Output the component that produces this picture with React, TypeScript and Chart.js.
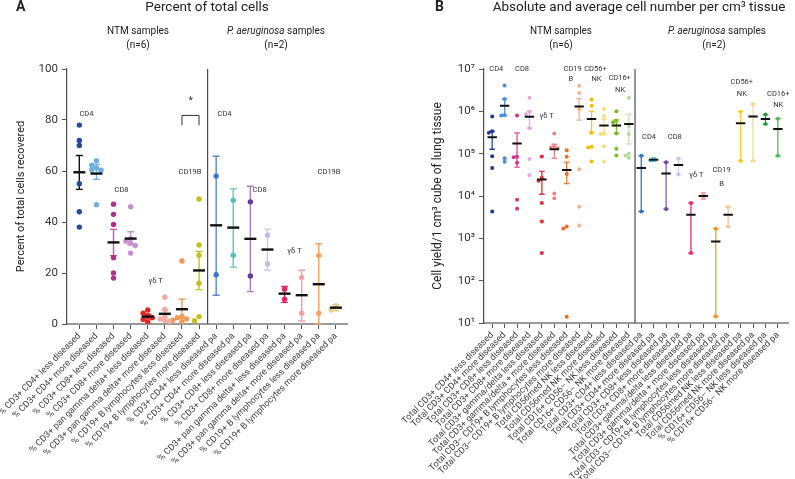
import React, { useEffect, useRef } from "react";
import { Chart, registerables } from "chart.js";
Chart.register(...registerables);

const FONT = "Roboto, 'Liberation Sans', Arial, sans-serif";

// ---------------- Panel A: percent of total cells ----------------
const pctLabels = [
  "% CD3+ CD4+ less diseased",
  "% CD3+ CD4+ more diseased",
  "% CD3+ CD8+ less diseased",
  "% CD3+ CD8+ more diseased",
  "% CD3+ pan gamma delta+ less diseased",
  "% CD3+ pan gamma delta+ more diseased",
  "% CD19+ B lymphocytes less diseased",
  "% CD19+ B lymphocytes more diseased",
  "% CD3+ CD4+ less diseased pa",
  "% CD3+ CD4+ more diseased pa",
  "% CD3+ CD8+ less diseased pa",
  "% CD3+ CD8+ more diseased pa",
  "% CD3+ pan gamma delta+ less diseased pa",
  "% CD3+ pan gamma delta+ more diseased pa",
  "% CD19+ B lymphocytes less diseased pa",
  "% CD19+ B lymphocytes more diseased pa",
];
const pctNtmValues = [
  [78, 72, 70, 55, 44, 38],
  [64, 62.3, 61.2, 60.5, 60.3, 46.8],
  [47, 43, 39, 26, 20, 18],
  [46, 33.5, 32.5, 31.7, 30.8, 27.8],
  [5.5, 4.2, 3.3, 2.5, 1.8, 0.8],
  [10.5, 5.7, 3.5, 2, 1.5, 1],
  [24.7, 3, 2.5, 2, 1.5, 0.8],
  [49, 31, 27, 16, 2.9, 1.3],
];
const pctPaValues = [
  [58, 19.3],
  [48.5, 27],
  [47.9, 18.8],
  [34.8, 23.6],
  [13.6, 9.7],
  [18.2, 4.2],
  [26.9, 4.2],
  [7.2, 5.5],
];
const pctMeans = [59.5, 59.0, 32.0, 33.5, 2.9, 4.0, 5.8, 21.0, 38.7, 37.8, 33.4, 29.2, 11.9, 11.3, 15.6, 6.4];
const pctErrHigh = [66.1, 62.6, 37.1, 36.2, 3.8, 5.5, 9.7, 28.5, 65.8, 53, 54, 37.2, 14.7, 21.1, 31.5, 7.6];
const pctErrLow = [52.8, 56.7, 26.8, 31.2, 2.0, 2.6, 2.0, 13.5, 11.3, 22.3, 12.7, 21.1, 8.5, 1.2, 0, 5.2];
const pctPointColors = [
  "#23489e", "#6fb0e2", "#b0318c", "#c88fd2", "#e8261e", "#f2aaa2", "#f19a58", "#c6c01c",
  "#3f73cc", "#4cc4bc", "#6a3a9c", "#c2b8ea", "#e62860", "#f0a0a8", "#f9a25e", "#e6d08c",
];
const pctBarColors = [
  "#111111", "#6fb0e2", "#d452a8", "#c88fd2", "#e8261e", "#f2aaa2", "#f19a58", "#c6c01c",
  "#5a88d8", "#5cc8c0", "#a77cc8", "#cfc7ef", "#e62860", "#f0a0a8", "#f9a25e", "#e6d08c",
];
const pctYTicks = [0, 20, 40, 60, 80, 100];

// ---------------- Panel B: absolute cell numbers ----------------
const absLabels = [
  "Total CD3+ CD4+ less diseased",
  "Total CD3+ CD4+ more diseased",
  "Total CD3+ CD8+ less diseased",
  "Total CD3+ CD8+ more diseased",
  "Total CD3+ gamma/delta less diseased",
  "Total CD3+ gamma/delta + more diseased",
  "Total CD3– CD19+ B lymphocytes less diseased",
  "Total CD3– CD19+ B lymphocytes more diseased",
  "Total CD56med NK less diseased",
  "Total CD56med NK more diseased",
  "Total CD16+ CD56– NK less diseased",
  "Total CD16+ CD56– NK more diseased",
  "Total CD3+ CD4+ less diseased pa",
  "Total CD3+ CD4+ more diseased pa",
  "Total CD3+ CD8+ less diseased pa",
  "Total CD3+ CD8+ more diseased pa",
  "Total CD3+ gamma/delta less diseased pa",
  "Total CD3+ gamma/delta + more diseased pa",
  "Total CD3– CD19+ B lymphocytes less diseased pa",
  "Total CD3– CD19+ B lymphocytes more diseased pa",
  "Total CD56med NK less diseased pa",
  "Total CD56med Nk more diseased pa",
  "% CD16+ CD56– NK less diseased pa",
  "% CD16+ CD56– NK more diseased pa",
];
const absNtmValues = [
  [7.5e5, 3.4e5, 3.1e5, 8.7e4, 4.6e4, 4.3e3],
  [4.1e6, 1.95e6, 8.2e5, 8.0e5, 7.8e4, 6.4e4],
  [8e5, 8.5e4, 8.2e4, 6.1e4, 8.2e3, 5e3],
  [2.1e6, 9.8e5, 8.5e5, 4e5, 7.5e4, 3.1e4],
  [8.6e4, 2.7e4, 2.3e4, 6.8e3, 2.5e3, 450],
  [3e5, 1.5e5, 1.4e5, 1.35e5, 1.15e4, 8.9e3],
  [1.2e5, 8.5e4, 3.3e4, 1.9e3, 1.7e3, 14],
  [4.0e6, 2.7e6, 1.12e6, 4.3e4, 5.6e3, 2e3],
  [1.9e6, 1.35e6, 3.1e5, 1.45e5, 1.4e5, 6.5e4],
  [1.15e6, 7.8e5, 3.1e5, 2.9e5, 1.5e5, 6.5e4],
  [1.0e6, 6e5, 5.5e5, 3e5, 1.3e5, 9e4],
  [2.1e6, 4.5e5, 2.9e5, 1e5, 9e4, 8e4],
];
const absPaValues = [
  [8.9e4, 4.3e3],
  [7.6e4, 6.9e4],
  [6.3e4, 4.9e3],
  [7.65e4, 3.2e4],
  [6.8e3, 448],
  [1.12e4, 8.9e3],
  [1.68e3, 14.3],
  [5.5e3, 1.9e3],
  [9.8e5, 6.8e4],
  [1.49e6, 6.8e4],
  [8.4e5, 5.0e5],
  [6.7e5, 8.9e4],
];
const absMeans = [
  2.45e5, 1.35e6, 1.75e5, 7.4e5, 2.45e4, 1.27e5, 4.1e4, 1.3e6, 6.6e5, 4.6e5, 4.6e5, 5.0e5,
  4.6e4, 7.2e4, 3.4e4, 5.4e4, 3.6e3, 1.0e4, 840, 3.6e3, 5.2e5, 7.5e5, 6.6e5, 3.8e5,
];
const absErrHigh = [
  3.4e5, 1.95e6, 3.1e5, 1.0e6, 3.8e4, 1.67e5, 6.3e4, 2.0e6, 1.0e6, 6.5e5, 6.3e5, 8.5e5,
  8.9e4, 7.9e4, 6.3e4, 7.65e4, 6.8e3, 1.2e4, 1.68e3, 5.5e3, 9.8e5, 1.49e6, 8.4e5, 6.7e5,
];
const absErrLow = [
  1.27e5, 7.8e5, 4.8e4, 4.0e5, 1.1e4, 7.8e4, 1.97e4, 6.2e5, 3.1e5, 2.8e5, 3.0e5, 1.7e5,
  4.3e3, 6.6e4, 4.9e3, 3.2e4, 448, 8.5e3, 14.3, 1.9e3, 6.8e4, 6.8e4, 5.0e5, 8.9e4,
];
const absPointColors = [
  "#1f3a94", "#4a90e0", "#d2348c", "#e6aad8", "#e62a36", "#ef8484", "#ef6d1e", "#f7b48c",
  "#f4bd00", "#f6de86", "#78be22", "#b4dc9c",
  "#3478cc", "#5cc6dc", "#7446a4", "#d2c2ea", "#e82c76", "#f0a6a6", "#f7951a", "#f7c69c",
  "#f6cc1c", "#f6dc92", "#27a046", "#58b658",
];
const absBarColors = [
  "#2a48a4", "#4a90e0", "#e04a9c", "#e6aad8", "#e62a36", "#ef8484", "#ef7a30", "#f7b48c",
  "#f4c820", "#f6de86", "#78be22", "#c4e4b0",
  "#3478cc", "#5cc6dc", "#8a60b8", "#d8cbee", "#e82c76", "#f0a6a6", "#f7a030", "#f7c69c",
  "#f6d030", "#f6dc92", "#27a046", "#58b658",
];
const absYTicks = [1e1, 1e2, 1e3, 1e4, 1e5, 1e6, 1e7];

const SUP: Record<string, string> = { "0": "⁰", "1": "¹", "2": "²", "3": "³", "4": "⁴", "5": "⁵", "6": "⁶", "7": "⁷", "8": "⁸", "9": "⁹" };

type Ann = { text: string; x: number; y: number; size?: number };
type HeaderText = { parts: { t: string; italic?: boolean; bold?: boolean }[]; x: number; y: number; size: number; align?: CanvasTextAlign };

type Spec = {
  labels: string[];
  values: number[][];
  means: number[];
  hi: number[];
  lo: number[];
  pointColors: string[];
  barColors: string[];
  xMin: number;
  xMax: number;
  yType: "linear" | "logarithmic";
  yMin: number;
  yMax: number;
  yTicks: number[];
  yTickFmt: (v: number) => string;
  yTitle: string;
  yTitleSize: number;
  toPx: (v: number) => number;
  catPx: number;
  radius: number;
  meanRadius: number;
  meanWidth: number;
  capHalf: number;
  barWidth: number;
  separatorAt: number;
  padding: { left: number; right: number; top: number };
  yWidth: number;
  xHeight: number;
  xTickSize: number;
  annSize: number;
  annotations: Ann[];
  headers: HeaderText[];
  bracket?: { x1: number; x2: number; yTop: number; yBottom: number };
};

function dodge(vals: number[], toPx: (v: number) => number, catPx: number, r: number): number[] {
  const placed: { dx: number; py: number }[] = [];
  return vals.map((v) => {
    const py = toPx(v);
    const step = r * 1.7;
    let dx = 0;
    for (const k of [0, -1, 1, -2, 2, -3, 3]) {
      const c = k * step;
      if (placed.every((p) => Math.hypot(p.dx - c, p.py - py) >= r * 1.7)) {
        dx = c;
        break;
      }
    }
    placed.push({ dx, py });
    return dx / catPx;
  });
}

function drawHeader(ctx: CanvasRenderingContext2D, h: HeaderText) {
  const fontFor = (p: { italic?: boolean; bold?: boolean }) =>
    `${p.italic ? "italic " : ""}${p.bold ? "bold " : ""}${h.size}px ${FONT}`;
  let total = 0;
  const widths = h.parts.map((p) => {
    ctx.font = fontFor(p);
    const w = ctx.measureText(p.t).width;
    total += w;
    return w;
  });
  let x = h.align === "left" ? h.x : h.x - total / 2;
  ctx.textAlign = "left";
  ctx.textBaseline = "middle";
  ctx.fillStyle = "#222";
  h.parts.forEach((p, i) => {
    ctx.font = fontFor(p);
    ctx.fillText(p.t, x, h.y);
    x += widths[i];
  });
}

function buildChart(canvas: HTMLCanvasElement, spec: Spec) {
  const datasets: any[] = [];
  datasets.push({
    data: spec.means.map((m, i) => ({ x: i, y: m })),
    pointStyle: "line",
    pointRadius: spec.meanRadius,
    pointBorderColor: "#111",
    pointBorderWidth: spec.meanWidth,
    showLine: false,
    order: 0,
  });
  spec.values.forEach((vals, i) => {
    const offs = dodge(vals, spec.toPx, spec.catPx, spec.radius);
    datasets.push({
      data: vals.map((v, j) => ({ x: i + offs[j], y: v })),
      pointRadius: spec.radius,
      pointBackgroundColor: spec.pointColors[i],
      pointBorderColor: spec.pointColors[i],
      pointBorderWidth: 0,
      showLine: false,
      order: 1,
    });
  });

  const decor = {
    id: "decor",
    beforeDatasetsDraw(chart: any) {
      const { ctx, chartArea } = chart;
      const x = chart.scales.x;
      const y = chart.scales.y;
      ctx.save();
      const sx = x.getPixelForValue(spec.separatorAt);
      ctx.strokeStyle = "#4a4a4a";
      ctx.lineWidth = 1.2;
      ctx.beginPath();
      ctx.moveTo(sx, chartArea.top);
      ctx.lineTo(sx, chartArea.bottom);
      ctx.stroke();
      spec.hi.forEach((h, i) => {
        const px = x.getPixelForValue(i);
        const yh = Math.max(chartArea.top, y.getPixelForValue(h));
        const yl = Math.min(chartArea.bottom, y.getPixelForValue(Math.max(spec.lo[i], spec.yMin)));
        ctx.strokeStyle = spec.barColors[i];
        ctx.lineWidth = spec.barWidth;
        ctx.beginPath();
        ctx.moveTo(px, yh);
        ctx.lineTo(px, yl);
        ctx.moveTo(px - spec.capHalf, yh);
        ctx.lineTo(px + spec.capHalf, yh);
        ctx.moveTo(px - spec.capHalf, yl);
        ctx.lineTo(px + spec.capHalf, yl);
        ctx.stroke();
      });
      ctx.restore();
    },
    afterDraw(chart: any) {
      const { ctx } = chart;
      const x = chart.scales.x;
      const y = chart.scales.y;
      ctx.save();
      ctx.fillStyle = "#333";
      ctx.textAlign = "center";
      ctx.textBaseline = "middle";
      spec.annotations.forEach((a) => {
        ctx.font = `${a.size ?? spec.annSize}px ${FONT}`;
        ctx.fillText(a.text, x.getPixelForValue(a.x), y.getPixelForValue(a.y));
      });
      if (spec.bracket) {
        const b = spec.bracket;
        const x1 = x.getPixelForValue(b.x1);
        const x2 = x.getPixelForValue(b.x2);
        const yt = y.getPixelForValue(b.yTop);
        const yb = y.getPixelForValue(b.yBottom);
        ctx.strokeStyle = "#333";
        ctx.lineWidth = 1;
        ctx.beginPath();
        ctx.moveTo(x1, yb);
        ctx.lineTo(x1, yt);
        ctx.lineTo(x2, yt);
        ctx.lineTo(x2, yb);
        ctx.stroke();
      }
      spec.headers.forEach((h) => drawHeader(ctx, h));
      ctx.restore();
    },
  };

  return new Chart(canvas, {
    type: "scatter",
    data: { datasets },
    plugins: [decor],
    options: {
      animation: false,
      responsive: true,
      maintainAspectRatio: false,
      events: [],
      layout: { padding: { left: spec.padding.left, right: spec.padding.right, top: spec.padding.top, bottom: 0 } },
      plugins: { legend: { display: false }, tooltip: { enabled: false }, title: { display: false } },
      scales: {
        x: {
          type: "linear",
          min: spec.xMin,
          max: spec.xMax,
          afterBuildTicks: (s: any) => {
            s.ticks = spec.labels.map((_, i) => ({ value: i }));
          },
          afterFit: (s: any) => {
            s.height = spec.xHeight;
            s.paddingLeft = 0;
            s.paddingRight = 0;
          },
          ticks: {
            autoSkip: false,
            minRotation: 45,
            maxRotation: 45,
            padding: 2,
            color: "#444",
            font: { family: FONT, size: spec.xTickSize },
            callback: (v: any) => spec.labels[Math.round(Number(v))] ?? "",
          },
          grid: { display: true, drawOnChartArea: false, drawTicks: true, tickLength: 5, color: "#555", lineWidth: 1 },
          border: { display: true, color: "#9a9a9a", width: 2 },
        },
        y: {
          type: spec.yType,
          min: spec.yMin,
          max: spec.yMax,
          afterBuildTicks: (s: any) => {
            s.ticks = spec.yTicks.map((v) => ({ value: v }));
          },
          afterFit: (s: any) => {
            s.width = spec.yWidth;
          },
          ticks: {
            padding: 4,
            color: "#333",
            font: { family: FONT, size: 11.5 },
            callback: (v: any) => spec.yTickFmt(Number(v)),
          },
          grid: { display: true, drawOnChartArea: false, drawTicks: true, tickLength: 5, color: "#555", lineWidth: 1 },
          border: { display: true, color: "#4a4a4a", width: 1.2 },
          title: {
            display: true,
            text: spec.yTitle,
            color: "#222",
            padding: { top: 0, bottom: 0 },
            font: { family: FONT, size: spec.yTitleSize },
          },
        },
      },
    } as any,
  });
}

const leftSpec: Spec = {
  labels: pctLabels,
  values: [...pctNtmValues, ...pctPaValues],
  means: pctMeans,
  hi: pctErrHigh,
  lo: pctErrLow,
  pointColors: pctPointColors,
  barColors: pctBarColors,
  xMin: -0.72,
  xMax: 15.65,
  yType: "linear",
  yMin: 0,
  yMax: 100,
  yTicks: pctYTicks,
  yTickFmt: (v) => String(v),
  yTitle: "Percent of total cells recovered",
  yTitleSize: 11,
  toPx: (v) => v * 2.55,
  catPx: 17.1,
  radius: 2.7,
  meanRadius: 6,
  meanWidth: 2.4,
  capHalf: 3.5,
  barWidth: 1.4,
  separatorAt: 7.5,
  padding: { left: 15, right: 53, top: 69 },
  yWidth: 52,
  xHeight: 155,
  xTickSize: 9,
  annSize: 7.5,
  annotations: [
    { text: "CD4", x: 0.42, y: 82.5 },
    { text: "CD8", x: 2.47, y: 52.5 },
    { text: "γδ T", x: 4.46, y: 17 },
    { text: "CD19B", x: 6.47, y: 59.6 },
    { text: "*", x: 6.51, y: 87.2, size: 10 },
    { text: "CD4", x: 8.49, y: 82.5 },
    { text: "CD8", x: 10.54, y: 52.5 },
    { text: "γδ T", x: 12.58, y: 28.6 },
    { text: "CD19B", x: 14.6, y: 59.4 },
  ],
  bracket: { x1: 6, x2: 7, yTop: 81.8, yBottom: 78 },
  headers: [
    { parts: [{ t: "A", bold: true }], x: 16, y: 7, size: 14, align: "left" },
    { parts: [{ t: "Percent of total cells" }], x: 207, y: 8, size: 13.5 },
    { parts: [{ t: "NTM samples" }], x: 138, y: 31, size: 10 },
    { parts: [{ t: "(n=6)" }], x: 138, y: 45, size: 10 },
    { parts: [{ t: "P. aeruginosa", italic: true }, { t: " samples" }], x: 276, y: 31, size: 10 },
    { parts: [{ t: "(n=2)" }], x: 276, y: 45, size: 10 },
  ],
};

const rightSpec: Spec = {
  labels: absLabels,
  values: [...absNtmValues, ...absPaValues],
  means: absMeans,
  hi: absErrHigh,
  lo: absErrLow,
  pointColors: absPointColors,
  barColors: absBarColors,
  xMin: -0.66,
  xMax: 23.84,
  yType: "logarithmic",
  yMin: 10,
  yMax: 1e7,
  yTicks: absYTicks,
  yTickFmt: (v) => {
    const e = String(Math.round(Math.log10(v)));
    return "10" + e.split("").map((c) => SUP[c] ?? c).join("");
  },
  yTitle: "Cell yield/1 cm³ cube of lung tissue",
  yTitleSize: 12,
  toPx: (v) => Math.log10(v) * 42.38,
  catPx: 12.6,
  radius: 2,
  meanRadius: 4.7,
  meanWidth: 2,
  capHalf: 2.8,
  barWidth: 1.3,
  separatorAt: 11.5,
  padding: { left: 31, right: 2, top: 69 },
  yWidth: 53,
  xHeight: 156,
  xTickSize: 9,
  annSize: 7.5,
  annotations: [
    { text: "CD4", x: 0.33, y: 1e7 },
    { text: "CD8", x: 2.4, y: 1e7 },
    { text: "CD19", x: 6.48, y: 1e7 },
    { text: "B", x: 6.33, y: 5.8e6 },
    { text: "CD56+", x: 8.31, y: 1e7 },
    { text: "NK", x: 8.39, y: 5.8e6 },
    { text: "CD16+", x: 10.26, y: 6.1e6 },
    { text: "NK", x: 10.3, y: 3.2e6 },
    { text: "γδ T", x: 4.38, y: 7.6e5 },
    { text: "CD4", x: 12.63, y: 2.42e5 },
    { text: "CD8", x: 14.7, y: 2.42e5 },
    { text: "γδ T", x: 16.44, y: 3.07e4 },
    { text: "CD19", x: 18.47, y: 4.03e4 },
    { text: "B", x: 18.47, y: 1.88e4 },
    { text: "CD56+", x: 20.1, y: 4.8e6 },
    { text: "NK", x: 20.1, y: 2.5e6 },
    { text: "CD16+", x: 23.03, y: 2.5e6 },
    { text: "NK", x: 23.03, y: 1.38e6 },
  ],
  headers: [
    { parts: [{ t: "B", bold: true }], x: 35, y: 7, size: 14, align: "left" },
    { parts: [{ t: "Absolute and average cell number per cm³ tissue" }], x: 239, y: 8, size: 13.5 },
    { parts: [{ t: "NTM samples" }], x: 161, y: 31, size: 10 },
    { parts: [{ t: "(n=6)" }], x: 161, y: 45, size: 10 },
    { parts: [{ t: "P. aeruginosa", italic: true }, { t: " samples" }], x: 317, y: 31, size: 10 },
    { parts: [{ t: "(n=2)" }], x: 314, y: 45, size: 10 },
  ],
};

export default function App() {
  const leftRef = useRef<HTMLCanvasElement>(null);
  const rightRef = useRef<HTMLCanvasElement>(null);
  useEffect(() => {
    const a = buildChart(leftRef.current!, leftSpec);
    const b = buildChart(rightRef.current!, rightSpec);
    return () => {
      a.destroy();
      b.destroy();
    };
  }, []);
  return (
    <div style={{ position: "fixed", left: 0, top: 0, width: 795, height: 479, background: "#fff", overflow: "hidden" }}>
      <div style={{ position: "absolute", left: 0, top: 0, width: 400, height: 479 }}>
        <canvas ref={leftRef} />
      </div>
      <div style={{ position: "absolute", left: 400, top: 0, width: 395, height: 479 }}>
        <canvas ref={rightRef} />
      </div>
    </div>
  );
}
